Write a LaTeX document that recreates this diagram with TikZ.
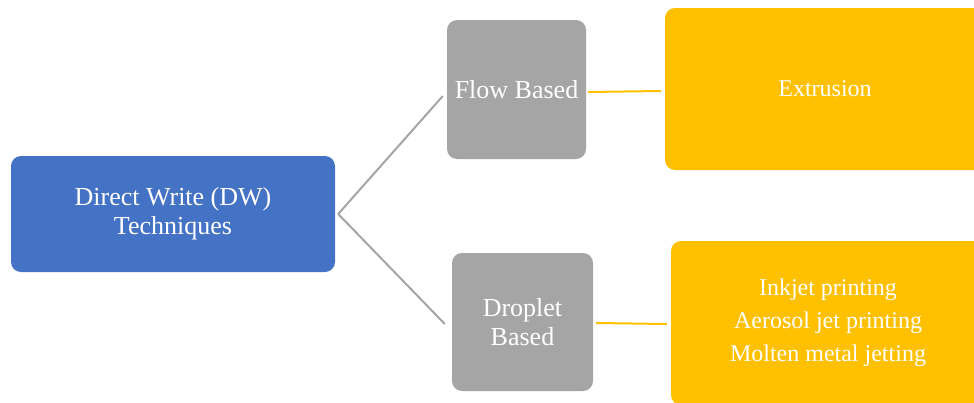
\documentclass[tikz,border=0pt]{standalone}
\usepackage{fontspec}
\setmainfont{Liberation Serif}
\definecolor{dwblue}{HTML}{4472C4}
\definecolor{dwgray}{HTML}{A5A5A5}
\definecolor{dwgold}{HTML}{FFC000}
\tikzset{
  box/.style={rounded corners=10pt, inner sep=0pt, align=center, text=white},
  bluebox/.style={box, fill=dwblue, font=\fontsize{26}{29}\selectfont},
  graybox/.style={box, fill=dwgray, font=\fontsize{26}{29}\selectfont},
  goldbox/.style={box, fill=dwgold, font=\fontsize{24}{33}\selectfont},
  grayline/.style={draw=dwgray, line width=2pt},
  goldline/.style={draw=dwgold, line width=2pt}
}
\begin{document}
\begin{tikzpicture}[x=1pt,y=-1pt]
\useasboundingbox (0,0) rectangle (974,402);
\clip (0,0) rectangle (974,402);
\node[bluebox, minimum width=324pt, minimum height=116pt] (dw) at (173,214) {Direct Write (DW)\\Techniques};
\node[graybox, minimum width=139pt, minimum height=139pt] (flow) at (516.5,89.5) {Flow Based};
\node[graybox, minimum width=141pt, minimum height=138pt] (drop) at (522.5,322) {Droplet\\Based};
\node[goldbox, minimum width=320pt, minimum height=162pt] (ext) at (825,89) {Extrusion};
\node[goldbox, minimum width=314pt, minimum height=164pt] (jet) at (828,323) {Inkjet printing\\Aerosol jet printing\\Molten metal jetting};
\draw[grayline] ([xshift=3pt]dw.east) -- ([xshift=-4pt,yshift=-6.5pt]flow.west);
\draw[grayline] ([xshift=3pt]dw.east) -- ([xshift=-7pt,yshift=-2pt]drop.west);
\draw[goldline] ([xshift=2pt,yshift=-2.5pt]flow.east) -- ([xshift=-4pt,yshift=-2pt]ext.west);
\draw[goldline] ([xshift=3pt,yshift=-1pt]drop.east) -- ([xshift=-4pt,yshift=-1pt]jet.west);
\end{tikzpicture}
\end{document}
